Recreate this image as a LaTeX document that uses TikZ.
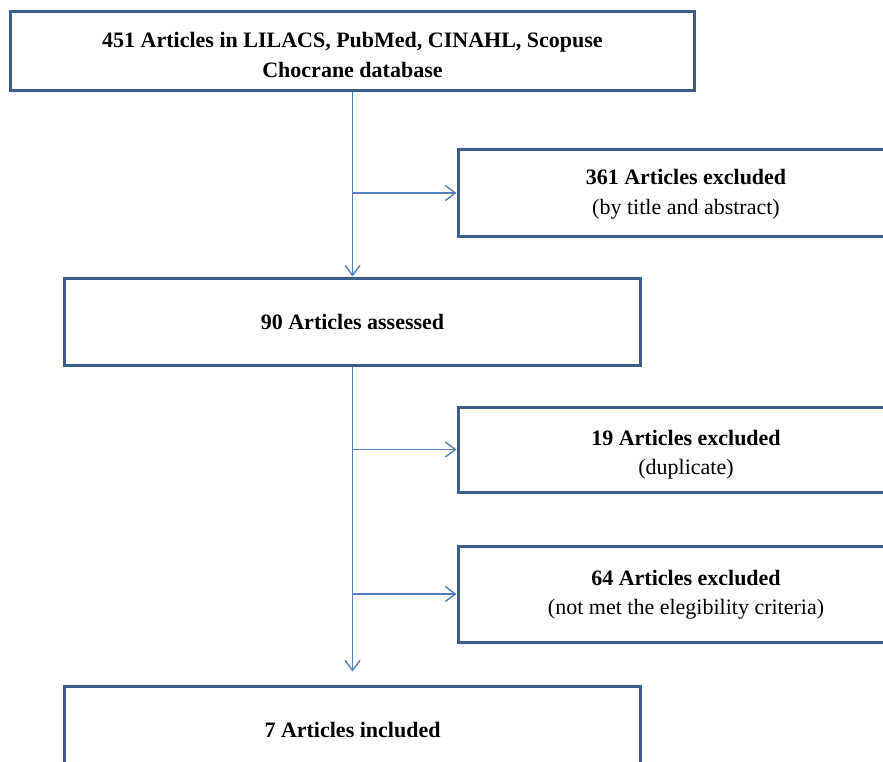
\documentclass[tikz,border=0pt]{standalone}
\usepackage{fontspec}
\setmainfont{Liberation Serif}
\usetikzlibrary{positioning,arrows.meta}
\definecolor{boxblue}{HTML}{3B5E8C}
\definecolor{lineblue}{HTML}{5581BA}

\begin{document}
\begin{tikzpicture}[x=1pt,y=-1pt,
  stage/.style={draw=boxblue,line width=3pt,align=center,inner sep=0pt,
    font=\fontsize{22}{29.5}\selectfont},
  flow/.style={draw=lineblue,line width=1.4pt,-{Straight Barb[length=10pt,width=15pt]}}]
  \path[use as bounding box,clip] (0,0) rectangle (883,762);

  % main column
  \node[stage,minimum width=684pt,minimum height=79pt,text height=60pt,text depth=8pt] (search) at (352.5,51.5)
    {\textbf{451 Articles in LILACS, PubMed, CINAHL, Scopuse}\\\textbf{Chocrane database}};
  \node[stage,minimum width=576pt,minimum height=87pt] (assessed) at (352.5,321.5)
    {\textbf{90 Articles assessed}};
  \node[stage,minimum width=576pt,minimum height=88pt] (included) at (352.5,730)
    {\textbf{7 Articles included}};

  % exclusions
  \node[stage,minimum width=456pt,minimum height=86pt,text height=50pt,text depth=7pt] (byabs) at (686,193)
    {\textbf{361 Articles excluded}\\(by title and abstract)};
  \node[stage,minimum width=456pt,minimum height=85pt,text height=56pt,text depth=6pt] (dupl) at (686,449.5)
    {\textbf{19 Articles excluded}\\(duplicate)};
  \node[stage,minimum width=456pt,minimum height=96pt,text height=48pt,text depth=7pt] (notelig) at (686,594)
    {\textbf{64 Articles excluded}\\(not met the elegibility criteria)};

  \draw[flow] (search) -- (assessed);
  \draw[flow,shorten >=13pt] (assessed) -- (included);
  \draw[flow] (search.south |- byabs.west) -- (byabs.west);
  \draw[flow] (assessed.south |- dupl.west) -- (dupl.west);
  \draw[flow] (assessed.south |- notelig.west) -- (notelig.west);
\end{tikzpicture}
\end{document}
